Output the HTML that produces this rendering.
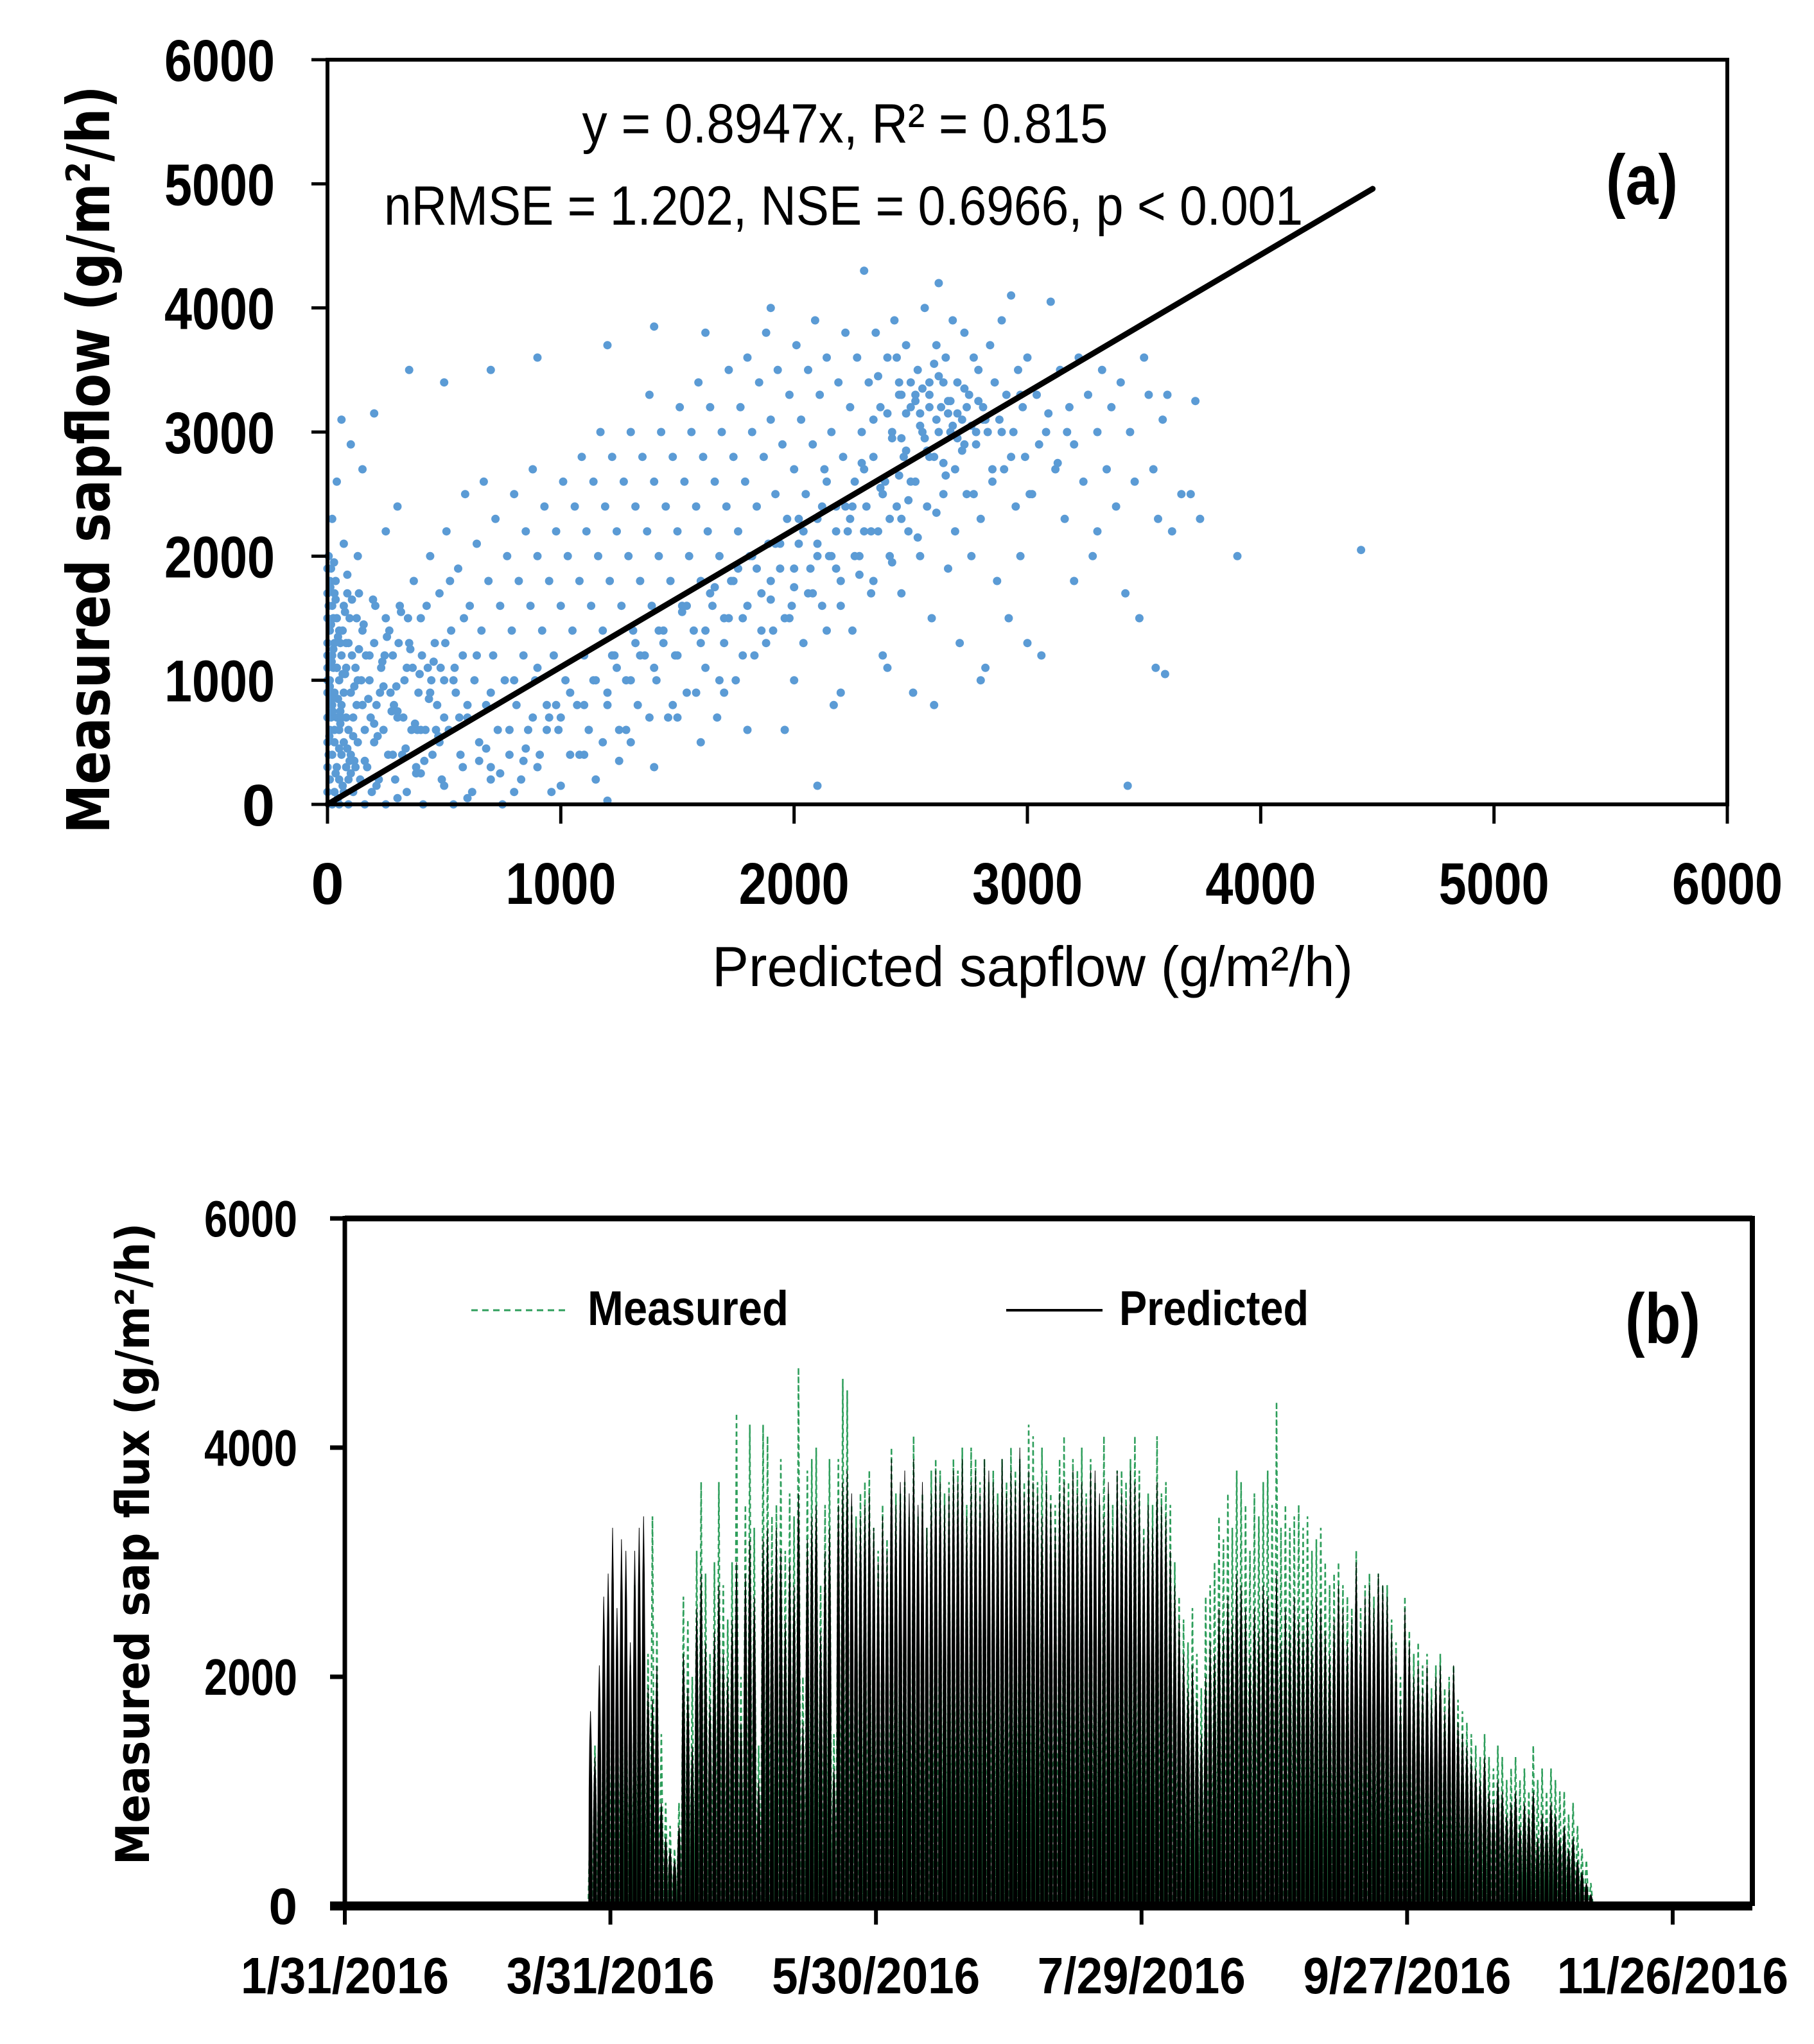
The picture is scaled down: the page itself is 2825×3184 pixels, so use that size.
<!DOCTYPE html>
<html>
<head>
<meta charset="utf-8">
<style>
  html,body{margin:0;padding:0;background:#fff;}
  svg{display:block;}
  text{font-family:"Liberation Sans",sans-serif;fill:#000;}
</style>
</head>
<body>
<svg id="fig" xmlns="http://www.w3.org/2000/svg" width="2825" height="3184" viewBox="0 0 2825 3184">
  <rect x="0" y="0" width="2825" height="3184" fill="#fff"/>
  <g id="chartA">
    <g id="aPoints"></g>
    <g id="aLine"></g>
    <rect x="510" y="93" width="2180" height="1160" fill="none" stroke="#000" stroke-width="6"/>
    <g id="aTicks"></g>
    <text x="1316" y="222" font-size="86" text-anchor="middle" textLength="819" lengthAdjust="spacingAndGlyphs">y = 0.8947x, R² = 0.815</text>
    <text x="598" y="350" font-size="86" textLength="1431" lengthAdjust="spacingAndGlyphs">nRMSE = 1.202, NSE = 0.6966, p &lt; 0.001</text>
    <text x="2501" y="318" font-size="110" font-weight="bold" textLength="112" lengthAdjust="spacingAndGlyphs">(a)</text>
    <text x="1109" y="1536" font-size="88" textLength="998" lengthAdjust="spacingAndGlyphs">Predicted sapflow (g/m²/h)</text>
    <text transform="translate(170,716) rotate(-90)" x="0" y="0" font-size="92" font-weight="bold" text-anchor="middle" textLength="1165" lengthAdjust="spacingAndGlyphs" style="font-family:'DejaVu Sans',sans-serif">Measured sapflow  (g/m²/h)</text>
  </g>
  <g id="chartB">
    <g id="bSeries"></g>
    <line x1="537" y1="1898" x2="2729" y2="1898" stroke="#000" stroke-width="9"/>
    <line x1="2729" y1="1894" x2="2729" y2="2969" stroke="#000" stroke-width="8"/>
    <line x1="537" y1="1894" x2="537" y2="2969" stroke="#000" stroke-width="7"/>
    <line x1="514" y1="2969" x2="2729" y2="2969" stroke="#000" stroke-width="14"/>
    <g id="bTicks"></g>
    <line x1="734" y1="2041" x2="884" y2="2041" stroke="#2e9e5b" stroke-width="3" stroke-dasharray="10,7"/>
    <text x="915" y="2064" font-size="76" font-weight="bold" textLength="313" lengthAdjust="spacingAndGlyphs">Measured</text>
    <line x1="1567" y1="2041" x2="1717" y2="2041" stroke="#000" stroke-width="4"/>
    <text x="1743" y="2064" font-size="76" font-weight="bold" textLength="295" lengthAdjust="spacingAndGlyphs">Predicted</text>
    <text x="2531" y="2092" font-size="110" font-weight="bold" textLength="117" lengthAdjust="spacingAndGlyphs">(b)</text>
    <text transform="translate(232,2405) rotate(-90)" x="0" y="0" font-size="72" font-weight="bold" text-anchor="middle" textLength="1000" lengthAdjust="spacingAndGlyphs" style="font-family:'DejaVu Sans',sans-serif">Measured sap flux (g/m²/h)</text>
  </g>
</svg>
<script>
// ---------- Chart (a) data ----------
const scatterPred = [0,0,0,0,0,0,0,0,0,0,10,10,10,10,10,20,20,20,20,20,30,30,30,30,30,40,40,40,40,50,50,50,50,50,60,60,60,70,70,70,70,80,80,80,90,90,90,90,100,100,110,110,120,120,130,140,150,150,160,160,170,180,190,200,200,210,220,230,240,250,250,260,270,280,290,300,310,320,330,340,350,360,370,380,390,400,410,420,430,440,450,460,470,480,490,500,510,520,530,540,550,560,570,580,590,600,610,620,630,640,650,660,670,680,690,700,710,720,730,740,750,760,770,780,790,800,810,820,830,840,850,860,870,880,890,900,910,920,930,940,950,960,970,980,990,1000,1010,1020,1030,1040,1050,1060,1070,1080,1090,1100,1110,1120,1130,1140,1150,1160,1170,1180,1190,1200,1210,1220,1230,1240,1250,1260,1270,1280,1290,1300,1310,1320,1330,1340,1350,1360,1370,1380,1390,1400,1410,1420,1430,1440,1450,1460,1470,1480,1490,1500,1510,1520,1530,1540,1550,1560,1570,1580,1590,1600,1610,1620,1630,1640,1650,1660,1670,1680,1690,1700,1710,1720,1730,1740,1750,1760,1770,1780,1790,1800,1810,1820,1830,1840,1850,1860,1870,1880,1890,1900,1910,1920,1930,1940,1950,1960,1970,1980,1990,2000,2010,2020,2030,2040,2050,2060,2070,2080,2090,2100,2110,2120,2130,2140,2150,2160,2170,2180,2190,2200,2210,2220,2230,2240,2250,2260,2270,2280,2290,2300,2310,2320,2330,2340,2350,2360,2370,2380,2390,2400,2410,2420,2430,2440,2450,2460,2470,2480,2490,2500,2510,2520,2530,2540,2550,2560,2570,2580,2590,2600,2610,2620,2630,2640,2650,2660,2670,2680,2690,2700,2710,2720,2730,2740,2750,2760,2770,2780,2790,2800,2810,2820,2830,2840,2850,2860,2870,2880,2890,2900,2910,2920,2930,2940,2950,2960,2970,2980,2990,3000,3020,3040,3060,3080,3100,3120,3140,3160,3180,3200,3220,3240,3260,3280,3300,3320,3340,3360,3380,3400,3420,3440,3460,3480,3500,3520,3540,3560,3580,3600,3620,3660,3700,3720,3740,3900,4430,3550,3590,3430,2100,1200,350,500,700,900,1200,1400,1620,1900,60,200,100,40,20,150,300,250,130,70,600,700,800,900,1000,1100,1300,1400,1500,1600,1700,1800,2000,2200,2400,2600,2800,3000,3200,3300,300,400,500,650,850,950,1150,1250,0,0,5,5,15,25,35,45,55,65,75,85,95,105,115,125,135,145,5,15,25,35,45,55,65,85,105,125,165,185,205,225,245,265,285,305,325,345,365,385,405,425,445,465,485,505,525,545,565,585];
const scatterMeas = [100,300,500,700,900,1100,1300,1500,1700,1900,200,600,1000,1400,1800,0,400,800,1200,1600,100,500,900,1300,1700,300,700,1100,1500,0,200,600,1000,1400,400,800,1200,100,500,900,1600,300,700,1100,0,200,600,1300,400,900,100,700,300,1100,500,200,800,1400,0,600,300,1000,100,500,1300,800,200,1100,600,0,1500,400,900,1200,200,700,1600,400,1000,100,1300,600,1800,300,900,1500,0,600,1100,2000,400,1300,800,1700,200,1000,2200,600,1400,0,900,1900,400,1200,2500,700,1600,100,1000,2100,500,1400,2600,800,1800,300,1200,2300,600,1600,0,1000,2000,400,1400,2500,800,1800,200,1200,2200,600,1600,2700,1000,2000,400,1400,2400,800,1800,100,1200,2200,600,1600,2600,1000,2000,400,1400,2400,800,1800,2800,1200,2200,600,1600,2600,1000,2000,3000,1400,2400,800,1800,2800,1200,2200,600,1600,2600,1000,2000,3000,1400,2400,800,1800,2800,1200,2200,3300,1600,2600,1000,2000,3000,1400,2400,700,1800,2800,1200,2200,3200,1600,2600,900,2000,3000,1400,2400,3400,1800,2800,1100,2200,3200,1600,2600,700,2000,3000,1300,2400,3500,1800,2800,1000,2200,3200,1500,2600,3600,2000,3000,1200,2400,3400,1700,2800,3800,2100,3100,1400,2500,3500,1900,2900,600,2300,3300,1600,2700,3700,2100,3100,1300,2500,3500,1900,2900,3900,2300,3300,1600,2700,3600,2000,3000,800,2400,3400,1800,2800,3800,2200,3200,1400,2600,3600,2000,3000,4300,2400,3400,1700,2800,3800,2200,3200,1200,2600,3600,2000,3000,3900,2400,3400,1700,2800,3700,2200,3200,900,2600,3500,2000,3000,4000,2400,3400,1500,2800,3700,4200,3200,2500,3600,1900,3000,3900,2700,3400,1300,3100,3800,2500,3300,2000,3600,2900,3500,2300,3200,1100,3000,3700,2600,3400,1800,3100,3900,2700,3300,1500,4100,3000,2400,3500,2000,3200,2800,3600,2500,3300,1200,3000,4050,2700,3500,2300,3200,2900,3600,2600,3300,2000,3000,3500,2700,3200,2400,3400,1700,3000,2600,1500,3600,3300,2700,2300,3100,3300,2200,2500,2500,3250,2300,2000,2050,1100,1050,150,150,30,3500,3400,3500,3600,3700,3850,3800,4000,3100,3150,2900,2600,2300,2700,2400,2200,2000,2100,50,200,100,300,150,400,500,300,700,500,900,600,1000,900,1100,800,1000,1300,1800,2200,50,250,150,350,450,700,200,350,1000,1200,400,1600,700,1100,250,850,1300,150,1050,450,1500,1200,350,800,1700,1000,2000,1900,1500,1800,50,750,1400,1700,1650,1500,1200,700,1600,900,1200,1400,800,1300,700,1500,1100,600,1200,1600,1000,600,1100,1300,1800,1100,700,1500];
const scatterPred2 = [2450,2480,2520,2550,2580,2610,2640,2670,2700,2730,2760,2790,2460,2500,2540,2580,2620,2660,2700,2740,2780,2820,2360,2400,2440,2480,2520,2560,2600,2640,2680,2720,2300,2340,2380,2420,2460,2500,2540,2580,2620,2660,2250,2290,2330,2370,2410,2450,2490,2530,2570,2610,2650,2690,2730,2770,2810,2850,2890,2930,2970,3010,3050,3090,3130,3170,2100,2140,2180,2220,2260,2300,2340,2380,2420,2460,2000,2040,2080,2120,2160,2200,2240,2280,1900,1940,1980,2020,2060,2100,2140,2180,1800,1840,1880,1920,1960,2000,2040,1700,1740,1780,1820,1860,1900,1600,1640,1680,1720,1760,1500,1540,1580,1620,1660,1400,1440,1480,1520,1300,1340,1380,1420,1200,1240,1280,1320,1100,1140,1180,1220,1000,1040,1080,900,940,980,800,840,880,700,740,780,600,640,680,500,540,580,400,440,480,300,340,380,200,240,280,150,180,210,110,130,160,60,80,100,30,40,50,20,25,35,10,15,8,12,18,22,28,45,55,65,75,85,95,115,135,155,175,195,215,235,255,275,295,315,335,355,375,395,415,435,455,475,495,515,535,555,575,595,615,635];
const scatterMeas2 = [3300,3150,3250,3350,3200,3100,3400,3250,3150,3350,3050,3250,2950,3400,3050,3300,3450,3150,2950,3200,3000,3100,3450,3150,3600,2850,3300,2950,3550,2750,3050,2850,2700,3100,2500,2950,3300,2600,3150,2800,3000,3250,2400,2750,2200,2550,2300,2650,2450,2150,2850,2350,2650,2200,2900,2500,3100,2700,3000,2800,3300,2500,2900,3150,2750,3000,2100,2600,1900,2400,2000,2200,1800,2500,1950,2300,1900,2200,1700,2400,2000,1600,2300,1850,1800,2100,1500,2300,1700,2000,1400,2200,1600,1900,1300,2100,1500,1750,2200,1500,1800,1200,2000,1400,1650,1300,1700,1000,1500,1900,1200,1600,900,1400,1750,1100,1300,800,1550,1000,1200,700,1400,900,1100,600,1300,800,1000,500,1200,700,900,400,1100,600,800,1000,350,700,900,250,600,800,1200,450,700,1000,300,600,900,500,750,1100,250,650,950,400,800,1200,150,550,1000,350,700,1300,250,600,1100,450,850,1250,1650,950,1450,550,1750,1150,750,1950,1350,650,1050,1550,1850,350,950,1250,1450,850,1650,550,1150,1350,750,950,1550,450,1250,650,1050,350,850,1150,550];
const allPred = scatterPred.concat(scatterPred2);
const allMeas = scatterMeas.concat(scatterMeas2);
const lineX = [0, 4480];
const lineY = [0, 4960];
const aXTicks = [0,1000,2000,3000,4000,5000,6000];
const aYTicks = [0,1000,2000,3000,4000,5000,6000];
const aTickLabels = ["0","1000","2000","3000","4000","5000","6000"];

// ---------- Chart (b) data ----------
const firstDay = 55; // days after 1/31/2016
const predictedPeaks = [1700,1300,2100,2700,2900,3300,2600,3200,3100,2300,
3100,3300,3400,1900,1800,2100,900,600,500,400,
700,2200,1900,1400,2600,2900,2300,1800,2400,2800,
2200,2000,2500,3000,1600,2900,3200,2700,1100,3200,
3300,2900,3300,3100,2500,3000,2800,3600,1600,3200,
3400,3500,2400,3100,3300,1200,3500,3700,3800,3600,
3300,3400,3500,3600,3300,3000,3400,3100,3900,3500,
3700,3800,3600,3900,3500,3700,3300,3600,3800,3700,
3500,3600,3800,3700,3900,3400,3700,3800,3600,3900,
3800,3700,3500,3900,3600,3800,3700,4000,3600,3800,
3700,3600,3400,3700,3500,3300,3600,3700,3500,3800,
3600,3700,3500,3800,3800,3600,3400,3700,3300,3800,
3600,3500,3800,3700,3600,3200,3500,3300,3700,3500,
3400,3100,2800,2500,2200,1900,2100,1800,1500,2000,
2300,2200,2600,2400,2700,2500,2900,2800,2600,2200,
2600,2400,2800,2700,2500,2900,2300,2600,2400,2700,
2500,2400,2600,2300,2700,2600,2400,2200,2500,2800,
2600,2300,2500,3000,2400,2700,2800,2600,2900,2800,
2700,2400,2200,1800,2600,2300,2000,2100,1900,2100,
1800,2000,2100,1700,1900,2100,1600,1500,1400,1300,
1200,1100,1300,1000,900,1100,1000,800,900,1000,
700,900,800,1000,600,800,700,900,800,600,
700,500,600,400,300,200,100];
const measuredPeaks = [900,1400,1800,2200,2500,2800,2300,2700,2600,2100,
2800,2900,3000,2200,3400,2400,1500,900,700,500,
900,2700,2500,2000,3100,3700,2900,2200,3000,3700,
2800,2500,3000,4300,2000,3500,4200,3300,1400,4200,
4100,3400,3500,3900,3100,3600,3400,4700,2000,3800,
3900,4000,2800,3500,3900,1500,3900,4600,4500,3500,
3400,3600,3700,3800,3300,3100,3500,3200,4000,3600,
3600,3700,3400,4100,3400,3600,3300,3800,3900,3800,
3600,3700,3900,3800,4000,3500,4000,3900,3700,3900,
3700,3800,3600,3900,3700,4000,3800,3900,3700,4200,
4100,3700,4000,3800,3600,3500,3900,4100,3700,3900,
3800,4000,3600,3900,3700,3500,4100,3600,3500,3800,
3800,3700,3900,4100,3800,3300,3600,3500,4100,3600,
3700,3500,3000,2700,2500,2300,2600,2200,1900,2700,
2800,3000,3400,3200,3600,3300,3800,3700,3500,3100,
3600,3400,3700,3800,3500,4400,3300,3500,3300,3400,
3500,3300,3400,3100,3200,3300,3000,2800,2900,3000,
2800,2700,2600,3100,2600,2800,2900,2700,2900,2800,
2800,2500,2300,2000,2700,2400,2200,2300,2100,2200,
1900,2100,2200,1900,2000,2100,1800,1700,1600,1500,
1400,1300,1500,1300,1200,1400,1300,1100,1200,1300,
1100,1200,1000,1400,1100,1200,1000,1200,1100,1000,
1000,800,900,700,500,400,200];
const bXTicks = [0,60,120,180,240,300];
const bXTickLabels = ["1/31/2016","3/31/2016","5/30/2016","7/29/2016","9/27/2016","11/26/2016"];
const bYTicks = [0,2000,4000,6000];
const bYTickLabels = ["0","2000","4000","6000"];

const NS = "http://www.w3.org/2000/svg";
function mk(tag, attrs, parent){
  const el = document.createElementNS(NS, tag);
  for (const k in attrs) el.setAttribute(k, attrs[k]);
  parent.appendChild(el);
  return el;
}

const ax = v => 510 + v * (2180/6000);
const ay = v => 1253 - v * (1160/6000);
const bx = d => 537 + d * (2192/318);
const by = v => 2969 - v * (1071/6000);

// ---- Chart a points ----
const gP = document.getElementById('aPoints');
const nPts = Math.min(allPred.length, allMeas.length);
for (let i = 0; i < nPts; i++) {
  if (!Number.isFinite(allPred[i]) || !Number.isFinite(allMeas[i])) continue;
  const c = mk('circle', {cx: ax(allPred[i]).toFixed(1), cy: ay(allMeas[i]).toFixed(1), r: 6.5, fill: '#5b9bd5'}, gP);
  
  
}
const gL = document.getElementById('aLine');
const rl = mk('line', {x1: ax(lineX[0]), y1: ay(lineY[0]), x2: ax(lineX[1]), y2: ay(lineY[1]), stroke: '#000', 'stroke-width': 9, 'stroke-linecap': 'round'}, gL);



// ---- Chart a ticks ----
const gTA = document.getElementById('aTicks');
for (let i = 0; i < aXTicks.length; i++) {
  const x = ax(aXTicks[i]);
  const t = mk('line', {x1: x, y1: 1253, x2: x, y2: 1283, stroke: '#000', 'stroke-width': 5}, gTA);
  
  
  const lbl = mk('text', {x: x, y: 1408, 'font-size': 92, 'font-weight': 'bold', 'text-anchor': 'middle'}, gTA);
  if (aTickLabels[i].length > 1) { lbl.setAttribute('textLength', 172); lbl.setAttribute('lengthAdjust', 'spacingAndGlyphs'); }
  lbl.textContent = aTickLabels[i];
  
  
}
for (let i = 0; i < aYTicks.length; i++) {
  const y = ay(aYTicks[i]);
  const t = mk('line', {x1: 485, y1: y, x2: 510, y2: y, stroke: '#000', 'stroke-width': 5}, gTA);
  
  
  const lbl = mk('text', {x: 428, y: y + 33, 'font-size': 92, 'font-weight': 'bold', 'text-anchor': 'end'}, gTA);
  if (aTickLabels[i].length > 1) { lbl.setAttribute('textLength', 172); lbl.setAttribute('lengthAdjust', 'spacingAndGlyphs'); }
  lbl.textContent = aTickLabels[i];
  
  
}

// ---- Chart b series ----
const gS = document.getElementById('bSeries');
let md = 'M' + bx(0).toFixed(1) + ',' + by(0).toFixed(1) + ' L' + bx(firstDay).toFixed(1) + ',' + by(0).toFixed(1);
for (let i = 0; i < measuredPeaks.length; i++) {
  const d = firstDay + i;
  md += ' L' + bx(d + 0.5).toFixed(1) + ',' + by(measuredPeaks[i]).toFixed(1) + ' L' + bx(d + 1).toFixed(1) + ',' + by(0).toFixed(1);
}
md += ' L' + bx(318).toFixed(1) + ',' + by(0).toFixed(1);
const mp = mk('path', {d: md, fill: 'none', stroke: '#2e9e5b', 'stroke-width': 2.5, 'stroke-dasharray': '8,5'}, gS);


let pd = '';
for (let i = 0; i < predictedPeaks.length; i++) {
  const d = firstDay + i, p = predictedPeaks[i];
  pd += 'M' + bx(d + 0.1).toFixed(1) + ',' + by(0).toFixed(1) +
        ' L' + bx(d + 0.18).toFixed(1) + ',' + by(p * 0.6).toFixed(1) +
        ' L' + bx(d + 0.32).toFixed(1) + ',' + by(p * 0.85).toFixed(1) +
        ' L' + bx(d + 0.5).toFixed(1) + ',' + by(p).toFixed(1) +
        ' L' + bx(d + 0.68).toFixed(1) + ',' + by(p * 0.85).toFixed(1) +
        ' L' + bx(d + 0.82).toFixed(1) + ',' + by(p * 0.6).toFixed(1) +
        ' L' + bx(d + 0.9).toFixed(1) + ',' + by(0).toFixed(1) + ' Z ';
}
const pp = mk('path', {d: pd, fill: '#000', stroke: '#000', 'stroke-width': 1}, gS);



// ---- Chart b ticks ----
const gTB = document.getElementById('bTicks');
for (let i = 0; i < bXTicks.length; i++) {
  const x = bx(bXTicks[i]);
  const t = mk('line', {x1: x, y1: 2969, x2: x, y2: 2998, stroke: '#000', 'stroke-width': 6}, gTB);
  
  
  const lbl = mk('text', {x: x, y: 3105, 'font-size': 80, 'font-weight': 'bold', 'text-anchor': 'middle', textLength: bXTickLabels[i].length > 9 ? 360 : 324, lengthAdjust: 'spacingAndGlyphs'}, gTB);
  lbl.textContent = bXTickLabels[i];
  
  
}
for (let i = 0; i < bYTicks.length; i++) {
  const y = by(bYTicks[i]);
  const t = mk('line', {x1: 514, y1: y, x2: 537, y2: y, stroke: '#000', 'stroke-width': 7}, gTB);
  
  
  const lbl = mk('text', {x: 463, y: y + 28, 'font-size': 80, 'font-weight': 'bold', 'text-anchor': 'end'}, gTB);
  if (bYTickLabels[i].length > 1) { lbl.setAttribute('textLength', 145); lbl.setAttribute('lengthAdjust', 'spacingAndGlyphs'); }
  lbl.textContent = bYTickLabels[i];
  
  
}
</script>
</body>
</html>
